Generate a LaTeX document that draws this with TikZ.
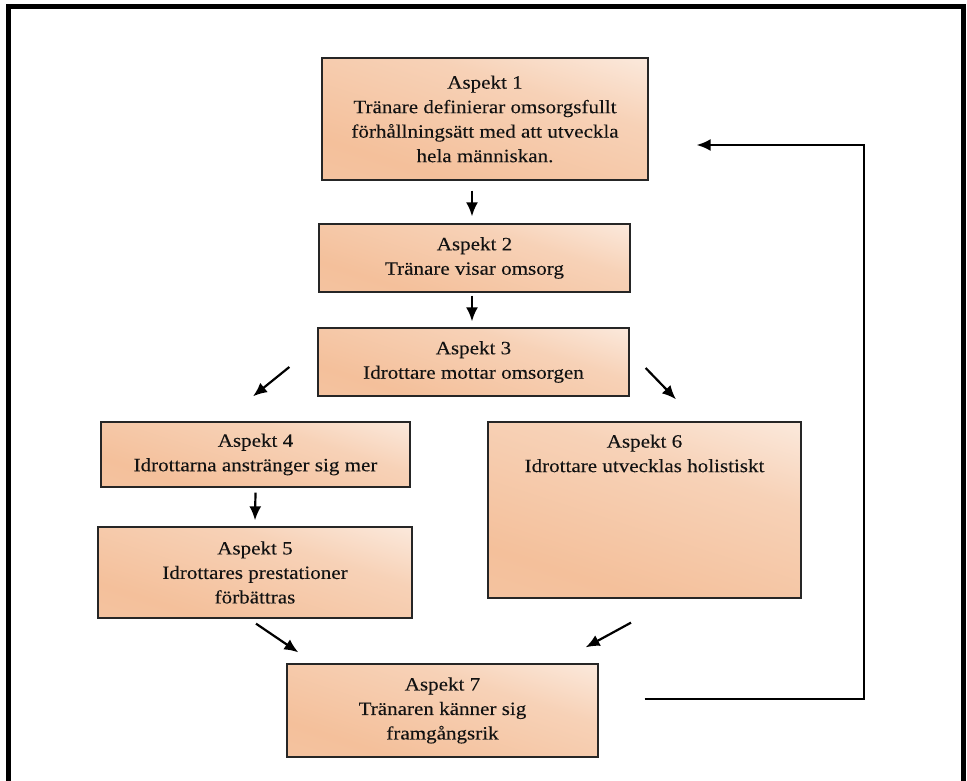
\documentclass[tikz,border=0pt]{standalone}
\usepackage{fontspec}
\setmainfont{Liberation Serif}[FakeStretch=1.12, FakeBold=0.1]
\usetikzlibrary{arrows.meta}
\definecolor{peach}{RGB}{244,192,155}
\definecolor{inkc}{RGB}{18,18,18}
% soft peach fill that fades to white towards the top
\pgfdeclareverticalshading{peachfade}{100bp}{color(0bp)=(peach!88!white); color(30bp)=(peach); color(62bp)=(peach!72!white); color(100bp)=(white)}
\tikzset{
  aspect/.style={draw=black!85, line width=1.3pt, shading=peachfade, shading angle=-18, inner sep=0pt},
  label txt/.style={align=center, text=inkc, font=\fontsize{18.8}{24.5}\selectfont},
  arr/.style={line width=2.2pt, -{Latex[length=14pt,width=12pt]}},
  loopline/.style={line width=2.2pt, -{Latex[length=14pt,width=12pt]}},
  frame/.style={line width=5pt, black}
}
\begin{document}
\begin{tikzpicture}[x=1pt, y=-1pt]
\useasboundingbox (0,0) rectangle (967,781);
\fill[white] (0,0) rectangle (967,781);
% outer frame, open at the bottom
\draw[frame] (8.5,781) -- (8.5,6.5) -- (963.5,6.5) -- (963.5,781);

% boxes
\node[aspect, label txt, minimum width=326pt, minimum height=122pt] (b1) at (485,119)
  {Aspekt 1\\Tränare definierar omsorgsfullt\\förhållningsätt med att utveckla\\hela människan.};
\node[aspect, label txt, minimum width=311pt, minimum height=68pt] (b2) at (474.5,258)
  {Aspekt 2\\Tränare visar omsorg};
\node[aspect, label txt, minimum width=311pt, minimum height=68pt] (b3) at (473.5,362)
  {Aspekt 3\\Idrottare mottar omsorgen};
\node[aspect, label txt, minimum width=309pt, minimum height=65pt] (b4) at (255.5,454.5)
  {Aspekt 4\\Idrottarna anstränger sig mer};
\node[aspect, label txt, minimum width=314pt, minimum height=91pt] (b5) at (255,572.5)
  {Aspekt 5\\Idrottares prestationer\\förbättras};
\node[aspect, minimum width=313pt, minimum height=176pt] (b6) at (644.5,510) {};
\node[label txt, anchor=north, inner sep=0pt] (b6t) at ([yshift=-13pt]b6.north)
  {Aspekt 6\\Idrottare utvecklas holistiskt};
\node[aspect, label txt, minimum width=311pt, minimum height=93pt] (b7) at (442.5,710.5)
  {Aspekt 7\\Tränaren känner sig\\framgångsrik};

% connectors
\draw[arr] ([shift={(-13,10)}]b1.south) -- ([shift={(-2.5,-7)}]b2.north);
\draw[arr] ([shift={(-2.5,3)}]b2.south) -- ([shift={(-1.5,-6)}]b3.north);
\draw[arr] ([shift={(-28,5)}]b3.west) -- ([shift={(-2.5,-25)}]b4.north);
\draw[arr] ([shift={(16,6)}]b3.east) -- ([shift={(31.5,-22)}]b6.north);
\draw[arr] ([shift={(0,5)}]b4.south) -- ([shift={(0,-6)}]b5.north);
\draw[arr] ([shift={(1,5)}]b5.south) -- ([shift={(12,-11)}]b7.north west);
\draw[arr] ([shift={(-13.5,24)}]b6.south) -- ([shift={(-13,-16)}]b7.north east);
\draw[loopline] ([shift={(46,-11.5)}]b7.east) -- ++(219,0) |- ([shift={(48,26)}]b1.east);
\end{tikzpicture}
\end{document}
